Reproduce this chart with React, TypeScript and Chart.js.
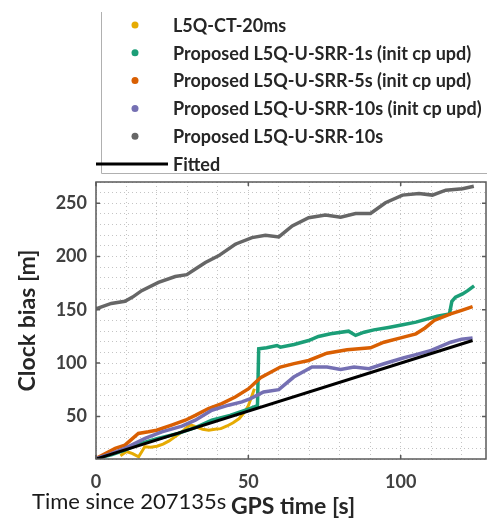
import React, { useEffect, useRef } from "react";
import { Chart, registerables } from "chart.js";

Chart.register(...registerables);

// ---- data ----
const ctX = [8, 10, 12, 14, 16, 18, 20, 22, 24, 26, 28, 30, 31, 33, 35, 37, 39, 41, 43, 45, 47, 49, 50, 51, 52];
const ctY = [13, 17, 15, 12, 21.5, 21, 22, 24, 27, 31, 35, 40, 42, 40, 38, 37, 38, 38.5, 41, 44, 48, 55, 60, 68, 76];

const srr1X = [0, 5, 9.5, 14, 20, 27, 33, 38, 44, 50.7, 53, 53.4, 56, 59.4, 60.5, 65, 69.8, 73, 77, 82.9, 85.2, 88, 91.2, 96, 101.1, 105, 108.8, 112, 116, 116.8, 118, 120.3, 122, 124.1];
const srr1Y = [10.5, 14, 18.4, 24, 29, 34, 40, 46.4, 51, 57.4, 60, 113.5, 114.5, 116.5, 115, 117.5, 121.2, 125, 127.5, 130, 126, 129, 131.2, 133.5, 136.2, 138.5, 141.5, 144, 146.2, 158, 162, 165, 168, 172.6];

const srr5X = [0, 6.3, 9.5, 13.9, 17.2, 19.9, 24.8, 29.3, 32.6, 36.9, 41.3, 45.7, 50.1, 54, 60.5, 65, 69.8, 75.8, 82.4, 90.1, 94.5, 100, 105, 108, 111, 116.4, 120, 123.6];
const srr5Y = [10.5, 20, 23, 34, 35.5, 37, 41.8, 46.4, 51, 57.4, 62, 68.2, 76, 86.4, 96.3, 99.5, 102.5, 109.3, 112.5, 114.4, 119.6, 123.7, 127.5, 133, 140, 146.2, 149.5, 153];

const srr10iX = [0, 5, 9.5, 16.1, 21.6, 28.2, 32.6, 38, 43.5, 47.9, 50.7, 55, 60, 64.9, 70.9, 75.8, 80.3, 84.7, 89.6, 94.5, 101.1, 105, 110, 116.4, 120, 123.6];
const srr10iY = [10.5, 15, 20, 29.3, 35.5, 40.8, 46.4, 55.8, 60.5, 63.6, 66.7, 72.9, 75.1, 86.9, 96.3, 96.3, 94.1, 96.3, 94.8, 99.4, 105, 108, 111.9, 119.6, 122.5, 123.7];

const srr10X = [0, 5, 9.5, 12, 15, 20.5, 26, 29.8, 33, 35.9, 40.2, 45.7, 51.2, 55.6, 60, 64.4, 69.8, 75.3, 80.3, 85.2, 90.1, 95, 100.6, 106, 110.4, 114.8, 120.3, 124];
const srr10Y = [151, 156, 158, 162, 168, 175.7, 181.3, 183, 189, 194.4, 200.7, 211.6, 217.8, 220, 218.4, 228.7, 236.4, 238.9, 237, 240.5, 240.5, 250.5, 257.7, 259.3, 257.7, 262.3, 263.6, 266];

const fitX = [0, 123.6];
const fitY = [10, 121.2];

const seriesLabels = [
  "L5Q-CT-20ms",
  "Proposed L5Q-U-SRR-1s (init cp upd)",
  "Proposed L5Q-U-SRR-5s (init cp upd)",
  "Proposed L5Q-U-SRR-10s (init cp upd)",
  "Proposed L5Q-U-SRR-10s",
  "Fitted",
];
const seriesColors = ["#e6ab02", "#1b9e77", "#d95f02", "#7570b3", "#666666", "#000000"];

const xTicksMajor = [0, 50, 100];
const yTicksMajor = [50, 100, 150, 200, 250];

const toPts = (xs: number[], ys: number[]) => xs.map((x, i) => ({ x, y: ys[i] }));

const FONT = "Lato, 'Open Sans', sans-serif";

const decorPlugin = {
  id: "decor",
  afterDraw(chart: any) {
    const { ctx, chartArea } = chart;
    const { left, right, top, bottom } = chartArea;
    const xs = chart.scales.x;
    const ys = chart.scales.y;
    ctx.save();
    // frame
    ctx.strokeStyle = "#5a5a5a";
    ctx.lineWidth = 1.5;
    ctx.strokeRect(left, top, right - left, bottom - top);
    // inward ticks
    ctx.beginPath();
    xTicksMajor.forEach((v) => {
      const px = xs.getPixelForValue(v);
      ctx.moveTo(px, bottom);
      ctx.lineTo(px, bottom - 4);
      ctx.moveTo(px, top);
      ctx.lineTo(px, top + 4);
    });
    yTicksMajor.forEach((v) => {
      const py = ys.getPixelForValue(v);
      ctx.moveTo(left, py);
      ctx.lineTo(left + 4, py);
      ctx.moveTo(right, py);
      ctx.lineTo(right - 4, py);
    });
    ctx.stroke();

    // axis titles
    ctx.fillStyle = "#262626";
    ctx.font = `bold 23px ${FONT}`;
    ctx.textAlign = "center";
    ctx.textBaseline = "middle";
    ctx.fillText("GPS time [s]", (left + right) / 2 + 2, 507);
    ctx.save();
    ctx.translate(28, (top + bottom) / 2);
    ctx.rotate(-Math.PI / 2);
    ctx.fillText("Clock bias [m]", 0, 0);
    ctx.restore();
    ctx.font = `22px ${FONT}`;
    ctx.textAlign = "left";
    ctx.fillStyle = "#1a1a1a";
    ctx.fillText("Time since 207135s", 32, 502);

    // legend
    ctx.strokeStyle = "#b0b0b0";
    ctx.lineWidth = 1;
    ctx.beginPath();
    ctx.moveTo(101.5, 12);
    ctx.lineTo(101.5, 173.5);
    ctx.lineTo(487, 173.5);
    ctx.stroke();
    const ds = chart.data.datasets;
    ctx.font = `bold 18px ${FONT}`;
    ctx.textBaseline = "middle";
    ds.forEach((d: any, i: number) => {
      const y = 25 + i * 27.8;
      if (i === ds.length - 1) {
        ctx.strokeStyle = d.borderColor;
        ctx.lineWidth = 3;
        ctx.beginPath();
        ctx.moveTo(96, y);
        ctx.lineTo(168, y);
        ctx.stroke();
      } else {
        ctx.fillStyle = d.borderColor;
        ctx.beginPath();
        ctx.arc(135, y, 3.5, 0, Math.PI * 2);
        ctx.fill();
      }
      ctx.fillStyle = "#262626";
      ctx.textAlign = "left";
      ctx.fillText(d.label, 173, y + 1);
    });
    ctx.restore();
  },
};

export default function App() {
  const ref = useRef<HTMLCanvasElement>(null);
  useEffect(() => {
    document.body.style.margin = "0";
    const dataSets = [
      { xs: ctX, ys: ctY, order: 4, width: 3 },
      { xs: srr1X, ys: srr1Y, order: 3, width: 3.5 },
      { xs: srr5X, ys: srr5Y, order: 2, width: 3.5 },
      { xs: srr10iX, ys: srr10iY, order: 1, width: 3.5 },
      { xs: srr10X, ys: srr10Y, order: 5, width: 3.5 },
      { xs: fitX, ys: fitY, order: 0, width: 3 },
    ];
    const chart = new Chart(ref.current!, {
      type: "scatter",
      data: {
        datasets: dataSets.map((d, i) => ({
          label: seriesLabels[i],
          data: toPts(d.xs, d.ys),
          showLine: true,
          borderColor: seriesColors[i],
          backgroundColor: seriesColors[i],
          borderWidth: d.width,
          pointRadius: 0,
          order: d.order,
          tension: 0,
        })),
      },
      options: {
        responsive: false,
        animation: false,
        layout: { padding: { top: 182, right: 1, left: 0, bottom: 0 } },
        plugins: { legend: { display: false }, tooltip: { enabled: false } },
        scales: {
          x: {
            type: "linear",
            min: 0,
            max: 128,
            afterFit: (s: any) => {
              s.height = 66;
            },
            grid: { color: "#c4c4c4", lineWidth: 1, drawTicks: false },
            border: { display: false, dash: [1, 3] },
            ticks: {
              stepSize: 10,
              includeBounds: false,
              autoSkip: false,
              maxRotation: 0,
              padding: 12,
              color: "#404040",
              font: { family: FONT, size: 18, weight: "bold" },
              callback: (v: any) => (xTicksMajor.includes(Number(v)) ? String(v) : ""),
            },
          },
          y: {
            type: "linear",
            min: 10,
            max: 270,
            afterFit: (s: any) => {
              s.width = 96;
            },
            grid: { color: "#c4c4c4", lineWidth: 1, drawTicks: false },
            border: { display: false, dash: [1, 3] },
            ticks: {
              stepSize: 10,
              autoSkip: false,
              padding: 9,
              color: "#404040",
              font: { family: FONT, size: 18, weight: "bold" },
              callback: (v: any) => (yTicksMajor.includes(Number(v)) ? String(v) : ""),
            },
          },
        },
      } as any,
      plugins: [decorPlugin],
    });
    return () => chart.destroy();
  }, []);
  return (
    <div style={{ width: 487, height: 525 }}>
      <canvas ref={ref} width={487} height={525} style={{ width: 487, height: 525, display: "block" }} />
    </div>
  );
}
